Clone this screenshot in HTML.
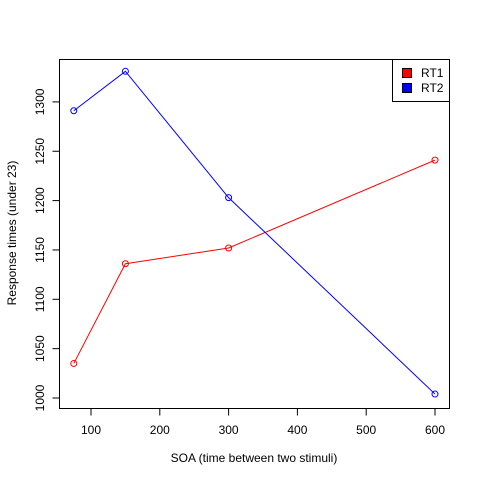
<!DOCTYPE html>
<html><head><meta charset="utf-8"><style>body{margin:0;background:#fff}svg{display:block}text{font-family:"Liberation Sans",sans-serif;font-size:12px;fill:#000}</style></head>
<body>
<svg id="chart" width="480" height="480" xmlns="http://www.w3.org/2000/svg"></svg>
<script>
const categories = [75, 150, 300, 600];
const rt1 = [1035, 1136, 1152, 1241];
const rt2 = [1291, 1331, 1203, 1004];
const xTicks = [100, 200, 300, 400, 500, 600];
const yTicks = [1000, 1050, 1100, 1150, 1200, 1250, 1300];
const seriesNames = ["RT1", "RT2"];

const svg = document.getElementById('chart');
const NS = 'http://www.w3.org/2000/svg';
const xs = v => 91 + (v - 100) * 0.688;
const ys = v => 398 - (v - 1000) * 0.987;
function mk(tag, attrs, parent) {
  const e = document.createElementNS(NS, tag);
  for (const k in attrs) e.setAttribute(k, attrs[k]);
  (parent || svg).appendChild(e);
  return e;
}
const box = mk('rect', {x:59.5, y:59.5, width:390, height:349, fill:'none', stroke:'#000'});



const xAxis = mk('g', {});


mk('line', {x1:xs(xTicks[0]), x2:xs(xTicks[xTicks.length-1]), y1:408.5, y2:408.5, stroke:'#000'}, xAxis);
xTicks.forEach(t => {
  mk('line', {x1:xs(t), x2:xs(t), y1:408.5, y2:415.5, stroke:'#000'}, xAxis);
  const tx = mk('text', {x:xs(t), y:434, 'text-anchor':'middle'}, xAxis);
  tx.textContent = t;
  
  
});
const yAxis = mk('g', {});


mk('line', {x1:59.5, x2:59.5, y1:ys(yTicks[0]), y2:ys(yTicks[yTicks.length-1]), stroke:'#000'}, yAxis);
yTicks.forEach(t => {
  mk('line', {x1:52.5, x2:59.5, y1:ys(t), y2:ys(t), stroke:'#000'}, yAxis);
  const tx = mk('text', {x:44, y:ys(t), 'text-anchor':'middle', transform:`rotate(-90 44 ${ys(t)})`}, yAxis);
  tx.textContent = t;
  
  
});
const xt = mk('text', {x:254, y:462, 'text-anchor':'middle'});
xt.textContent = 'SOA (time between two stimuli)';


const yt = mk('text', {x:16, y:233, 'text-anchor':'middle', transform:'rotate(-90 16 233)'});
yt.textContent = 'Response times (under 23)';



[[rt1, '#ff0000', 'rt1'], [rt2, '#0000ff', 'rt2']].forEach(([vals, col, nm]) => {
  const g = mk('g', {});
  
  
  const pl = mk('polyline', {points: vals.map((v,i)=>xs(categories[i])+','+ys(v)).join(' '), fill:'none', stroke:col}, g);
  
  
  vals.forEach((v,i) => {
    const c = mk('circle', {cx:xs(categories[i]), cy:ys(v), r:3, fill:'none', stroke:col}, g);
    
    
  });
});

const lg = mk('g', {});


mk('rect', {x:392.5, y:59.5, width:57, height:42, fill:'#fff', stroke:'#000'}, lg);
const cols = ['#ff0000', '#0000ff'];
seriesNames.forEach((n, i) => {
  const y = 73 + i * 15;
  mk('rect', {x:402.5, y:y-4.5, width:9, height:9, fill:cols[i], stroke:'#000'}, lg);
  const t = mk('text', {x:421, y:y+4}, lg);
  t.textContent = n;
  
  
});
</script>
</body></html>
